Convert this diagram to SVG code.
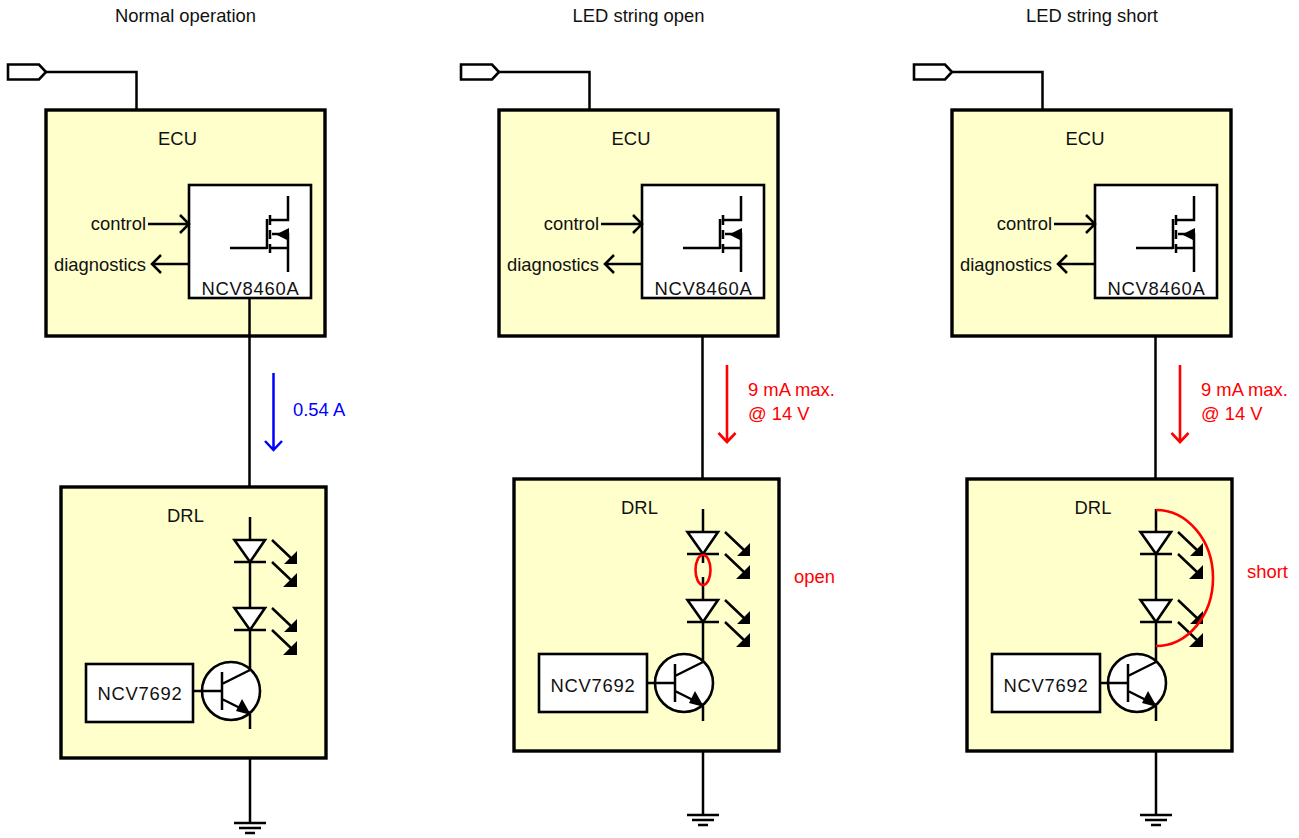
<svg xmlns="http://www.w3.org/2000/svg" xmlns:xlink="http://www.w3.org/1999/xlink" width="1299" height="838" viewBox="0 0 1299 838">
<style>
text{font-family:"Liberation Sans",Arial,Helvetica,sans-serif;font-size:18.4px;fill:#111}
.box{fill:#ffffcc;stroke:#000;stroke-width:3.4}
.wb{fill:#fff;stroke:#000;stroke-width:2.6}
.l{fill:none;stroke:#000;stroke-width:2.5}
.bl{fill:none;stroke:#0000ff;stroke-width:2.5}
.rd{fill:none;stroke:#ff0000;stroke-width:2.6}
.f{fill:#000;stroke:none}
.m{text-anchor:middle}
.e{text-anchor:end}
.sp{letter-spacing:.75px}
text.red{fill:#ff0000}
text.blue{fill:#0000ff}
</style>
<defs>
<g id="plug"><path class="wb" d="M8,64.500H39L46,72L39,79.500H8Z"/></g>
<g id="fet">
<path class="l" d="M230,248H267M267,219V249M270,215V225M270,230V239M270,244V253M270,220H288V196M270,248H288V272M288,248V234H272"/>
<path class="f" d="M289,241V228L276,234.500Z"/>
</g>
<g id="led">
<path class="wb" d="M234.500,540H265L250,562Z"/>
<path class="l" d="M234,562H266M272,540L292,559M272,562L292,581"/>
<path class="f" d="M297,551V564H284ZM297,573V587H283Z"/>
</g>
<g id="bjt">
<circle class="wb" cx="231" cy="691" r="29"/>
<path class="l" d="M193,691H222M222,672V710M222,684L250,670M222,699L250,713"/>
<path class="f" d="M251,715L236,711L242,699Z"/>
</g>
<g id="gnd"><path class="l" d="M234,823H266M239,828H261M245,833H255"/></g>
</defs>

<text class="m" x="185.500" y="22">Normal operation</text>
<text class="m" x="638.500" y="22">LED string open</text>
<text class="m" x="1092" y="22">LED string short</text>

<g id="ecu1">
<rect class="box" x="46" y="110" width="279" height="226"/>
<text class="m" x="177.500" y="145">ECU</text>
</g>
<g id="ncv8460a1">
<rect class="wb" x="189" y="185" width="122" height="113"/>
<use xlink:href="#fet" href="#fet"/>
<text class="m sp" x="250.500" y="295">NCV8460A</text>
</g>
<g id="drl1">
<rect class="box" x="61" y="487" width="265" height="271"/>
<text class="m" x="185.500" y="522">DRL</text>
</g>
<g id="ncv76921">
<rect class="wb" x="86" y="664" width="107" height="58"/>
<text class="m sp" x="140" y="700">NCV7692</text>
</g>
<g id="ecu2">
<rect class="box" x="499" y="110" width="279" height="226"/>
<text class="m" x="631" y="145">ECU</text>
</g>
<g id="ncv8460a2">
<rect class="wb" x="642" y="185" width="122" height="113"/>
<use href="#fet" xlink:href="#fet" transform="translate(453 0)"/>
<text class="m sp" x="703.500" y="295">NCV8460A</text>
</g>
<g id="drl2">
<rect class="box" x="514" y="479" width="265" height="272"/>
<text class="m" x="639.500" y="514">DRL</text>
</g>
<g id="ncv76922">
<rect class="wb" x="539" y="654" width="108" height="58"/>
<text class="m sp" x="593" y="692">NCV7692</text>
</g>
<g id="ecu3">
<rect class="box" x="952" y="110" width="279" height="226"/>
<text class="m" x="1085" y="145">ECU</text>
</g>
<g id="ncv8460a3">
<rect class="wb" x="1095" y="185" width="122" height="113"/>
<use href="#fet" xlink:href="#fet" transform="translate(906 0)"/>
<text class="m sp" x="1156.500" y="295">NCV8460A</text>
</g>
<g id="drl3">
<rect class="box" x="967" y="479" width="265" height="272"/>
<text class="m" x="1093" y="514">DRL</text>
</g>
<g id="ncv76923">
<rect class="wb" x="992" y="654" width="108" height="58"/>
<text class="m sp" x="1046" y="692">NCV7692</text>
</g>

<g id="connectors">
<path class="l" d="M46,72H136.500V110"/>
<path class="l" d="M499,72H589.500V110"/>
<path class="l" d="M952,72H1042.500V110"/>
<path class="l" d="M148,224H189M180,215L189,224L180,233M189,264H152M161,255L152,264L161,273"/>
<path class="l" d="M601,224H642M633,215L642,224L633,233M642,264H605M614,255L605,264L614,273"/>
<path class="l" d="M1054,224H1095M1086,215L1095,224L1086,233M1095,264H1058M1067,255L1058,264L1067,273"/>
<path class="l" d="M249.500,298V487"/>
<path class="l" d="M702.500,336V479"/>
<path class="l" d="M1155.500,336V479"/>
<path class="l" d="M250,517V540M250,562V608M250,630V670M250,714V729M250,758V823"/>
<path class="l" d="M703,509V532M703,554V563M703,577V600M703,622V662M703,706V721M703,751V815"/>
<path class="l" d="M1156,509V532M1156,554V600M1156,622V662M1156,706V721M1156,751V815"/>
<path class="bl" d="M273.500,373V450M265,441L273.500,450L282,441"/>
<path class="rd" d="M727,365V442M718.500,433L727,442L735.500,433"/>
<path class="rd" d="M1180,365V442M1171.500,433L1180,442L1188.500,433"/>
</g>

<g id="components1">
<use href="#led" xlink:href="#led"/>
<use href="#led" xlink:href="#led" transform="translate(0 68)"/>
<use href="#bjt" xlink:href="#bjt"/>
<use href="#gnd" xlink:href="#gnd"/>
<use href="#plug" xlink:href="#plug"/>
</g>
<g id="components2">
<use href="#led" xlink:href="#led" transform="translate(453 -8)"/>
<use href="#led" xlink:href="#led" transform="translate(453 60)"/>
<use href="#bjt" xlink:href="#bjt" transform="translate(453 -8)"/>
<use href="#gnd" xlink:href="#gnd" transform="translate(453 -8)"/>
<use href="#plug" xlink:href="#plug" transform="translate(453 0)"/>
<ellipse class="rd" cx="703" cy="570" rx="7.500" ry="15"/>
</g>
<g id="components3">
<use href="#led" xlink:href="#led" transform="translate(906 -8)"/>
<use href="#led" xlink:href="#led" transform="translate(906 60)"/>
<use href="#bjt" xlink:href="#bjt" transform="translate(906 -8)"/>
<use href="#gnd" xlink:href="#gnd" transform="translate(906 -8)"/>
<use href="#plug" xlink:href="#plug" transform="translate(906 0)"/>
<path class="rd" d="M1156,510A57,68 0 0 1 1156,646"/>
</g>

<g id="labels">
<text class="e" x="146" y="230">control</text>
<text class="e" x="146" y="271">diagnostics</text>
<text class="e" x="599" y="230">control</text>
<text class="e" x="599" y="271">diagnostics</text>
<text class="e" x="1052" y="230">control</text>
<text class="e" x="1052" y="271">diagnostics</text>
<text class="blue" x="293" y="416">0.54 A</text>
<text class="red" x="748" y="396">9 mA max.</text>
<text class="red" x="748" y="420">@ 14 V</text>
<text class="red" x="1201" y="396">9 mA max.</text>
<text class="red" x="1201" y="420">@ 14 V</text>
<text class="red" x="794" y="583">open</text>
<text class="red" x="1247" y="578">short</text>
</g>
</svg>
